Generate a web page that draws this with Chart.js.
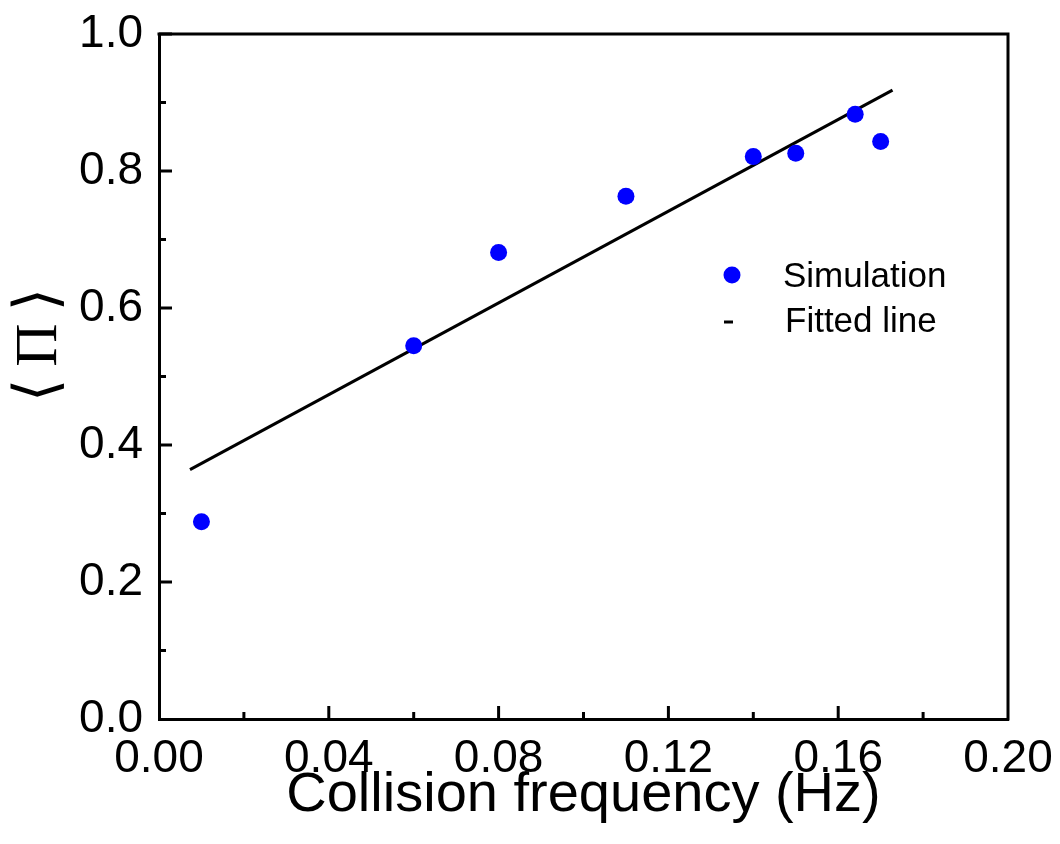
<!DOCTYPE html>
<html>
<head>
<meta charset="utf-8">
<script src="https://cdn.jsdelivr.net/npm/chart.js@4"></script>
<style>
  body { margin: 0; background: #fff; }
  #wrap { width: 1060px; height: 844px; }
</style>
</head>
<body>
<div id="wrap"><canvas id="fitChart" width="1060" height="844"></canvas></div>
<script>
// Simulation results
const collisionFreq = [0.01, 0.06, 0.08, 0.11, 0.14, 0.15, 0.164, 0.17];
const meanPi = [0.288, 0.545, 0.681, 0.763, 0.821, 0.826, 0.883, 0.843];

// Fitted line end points
const fitFreq = [0.0073, 0.1728];
const fitPi = [0.364, 0.918];

// Axis setup
const xRange = [0, 0.2];
const yRange = [0, 1.0];
const xStep = 0.04;
const yStep = 0.2;

const xTitle = "Collision frequency (Hz)";
const yTitle = "\u27E8\u2009\u03A0\u2009\u27E9";

const tickFont = { family: "Liberation Sans, Arial, sans-serif", size: 46 };

// Frame, inward ticks, y title and legend
const framePlugin = {
  id: "framePlugin",
  afterDraw(chart) {
    const ctx = chart.ctx;
    const area = chart.chartArea;
    const xs = chart.scales.x;
    const ys = chart.scales.y;

    ctx.save();
    ctx.strokeStyle = "#000";
    ctx.lineWidth = 3;
    ctx.lineCap = "square";

    // top and right border
    ctx.beginPath();
    ctx.moveTo(area.left, area.top);
    ctx.lineTo(area.right, area.top);
    ctx.lineTo(area.right, area.bottom);
    ctx.stroke();

    // major ticks at the labels, minor ticks half way between
    ctx.lineCap = "butt";
    const xt = xs.ticks;
    xt.forEach((t, i) => {
      const px = xs.getPixelForValue(t.value);
      if (i > 0 && i < xt.length - 1) {
        ctx.beginPath();
        ctx.moveTo(px, area.bottom);
        ctx.lineTo(px, area.bottom - 13);
        ctx.stroke();
      }
      if (i < xt.length - 1) {
        const mx = xs.getPixelForValue((t.value + xt[i + 1].value) / 2);
        ctx.beginPath();
        ctx.moveTo(mx, area.bottom);
        ctx.lineTo(mx, area.bottom - 7);
        ctx.stroke();
      }
    });
    const yt = ys.ticks;
    yt.forEach((t, i) => {
      const py = ys.getPixelForValue(t.value);
      if (i > 0) {
        ctx.beginPath();
        ctx.moveTo(area.left, py);
        ctx.lineTo(area.left + 13, py);
        ctx.stroke();
      }
      if (i < yt.length - 1) {
        const my = ys.getPixelForValue((t.value + yt[i + 1].value) / 2);
        ctx.beginPath();
        ctx.moveTo(area.left, my);
        ctx.lineTo(area.left + 7, my);
        ctx.stroke();
      }
    });

    // y axis title
    ctx.fillStyle = "#000";
    ctx.font = "60px 'Liberation Serif', 'DejaVu Serif', serif";
    ctx.textAlign = "center";
    ctx.textBaseline = "middle";
    ctx.translate(40, 345);
    ctx.rotate(-Math.PI / 2);
    ctx.fillText(yTitle, 0, 0);
    ctx.restore();

    // legend
    const sim = chart.data.datasets[0];
    const fit = chart.data.datasets[1];
    ctx.save();
    ctx.font = "35px 'Liberation Sans', Arial, sans-serif";
    ctx.textBaseline = "middle";
    ctx.fillStyle = sim.backgroundColor;
    ctx.beginPath();
    ctx.arc(732, 275, 8.5, 0, Math.PI * 2);
    ctx.fill();
    ctx.fillStyle = "#000";
    ctx.fillText(sim.label, 783, 277);

    ctx.strokeStyle = fit.borderColor;
    ctx.lineWidth = 3;
    ctx.beginPath();
    ctx.moveTo(724, 322);
    ctx.lineTo(733, 322);
    ctx.stroke();
    ctx.fillText(fit.label, 785, 322);
    ctx.restore();
  },
};

const ctx = document.getElementById("fitChart");

new Chart(ctx, {
  type: "scatter",
  data: {
    datasets: [
      {
        label: "Simulation",
        data: collisionFreq.map((f, i) => ({ x: f, y: meanPi[i] })),
        backgroundColor: "#0000ff",
        borderWidth: 0,
        pointRadius: 8.5,
        pointHoverRadius: 8.5,
      },
      {
        label: "Fitted line",
        type: "line",
        data: fitFreq.map((f, i) => ({ x: f, y: fitPi[i] })),
        borderColor: "#000",
        borderWidth: 3,
        pointRadius: 0,
        fill: false,
      },
    ],
  },
  options: {
    responsive: false,
    animation: false,
    layout: {
      padding: { left: 0, top: 34, right: 52, bottom: 0 },
    },
    plugins: {
      legend: { display: false },
      tooltip: { enabled: false },
    },
    scales: {
      x: {
        type: "linear",
        min: xRange[0],
        max: xRange[1],
        afterFit: function (scale) {
          scale.height = 125;
          scale.paddingLeft = 0;
          scale.paddingRight = 0;
        },
        ticks: {
          stepSize: xStep,
          color: "#000",
          font: tickFont,
          padding: 13,
          maxRotation: 0,
          callback: function (value) {
            return value.toFixed(2);
          },
        },
        grid: {
          drawOnChartArea: false,
          drawTicks: false,
        },
        border: { color: "#000", width: 3 },
        title: {
          display: true,
          text: xTitle,
          color: "#000",
          font: { family: "Liberation Sans, Arial, sans-serif", size: 56 },
          padding: { top: 0, bottom: 15 },
        },
      },
      y: {
        min: yRange[0],
        max: yRange[1],
        afterFit: function (scale) {
          scale.width = 159;
          scale.paddingTop = 0;
          scale.paddingBottom = 0;
        },
        ticks: {
          stepSize: yStep,
          color: "#000",
          font: tickFont,
          padding: 16,
          callback: function (value) {
            return value.toFixed(1);
          },
        },
        grid: {
          drawOnChartArea: false,
          drawTicks: false,
        },
        border: { color: "#000", width: 3 },
      },
    },
  },
  plugins: [framePlugin],
});
</script>
</body>
</html>
